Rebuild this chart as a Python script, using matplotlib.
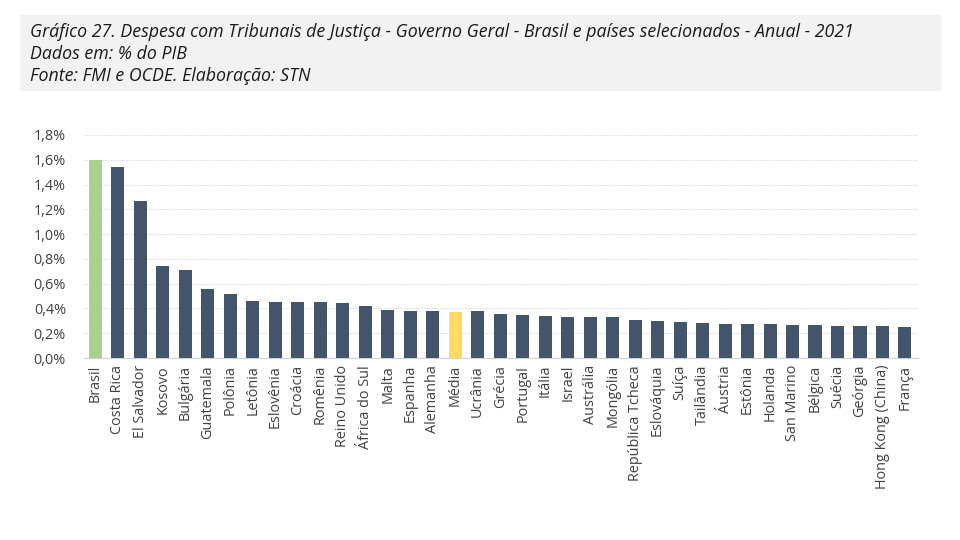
import matplotlib
matplotlib.use("Agg")
import matplotlib.pyplot as plt
from matplotlib.patches import Rectangle
from matplotlib.ticker import FuncFormatter

# paises e despesa (% do PIB)
paises = ["Brasil", "Costa Rica", "El Salvador", "Kosovo", "Bulgária", "Guatemala",
          "Polônia", "Letônia", "Eslovênia", "Croácia", "Romênia", "Reino Unido",
          "África do Sul", "Malta", "Espanha", "Alemanha", "Média", "Ucrânia",
          "Grécia", "Portugal", "Itália", "Israel", "Austrália", "Mongólia",
          "República Tcheca", "Eslováquia", "Suíça", "Tailândia", "Áustria",
          "Estônia", "Holanda", "San Marino", "Bélgica", "Suécia", "Geórgia",
          "Hong Kong (China)", "França"]
valores = [1.60, 1.54, 1.27, 0.745, 0.71, 0.56, 0.52, 0.46, 0.455, 0.455, 0.45,
           0.44, 0.42, 0.387, 0.38, 0.38, 0.375, 0.377, 0.357, 0.347, 0.336,
           0.33, 0.33, 0.33, 0.307, 0.30, 0.288, 0.282, 0.277, 0.277, 0.272,
           0.269, 0.266, 0.258, 0.258, 0.258, 0.253]

cinza = "#44546A"
cores = []
for p in paises:
    if p == "Brasil":
        cores.append("#A9D18E")
    elif p == "Média":
        cores.append("#FFD966")
    else:
        cores.append(cinza)

fig = plt.figure(figsize=(9.6, 5.4), dpi=100)

# caixa do titulo
fig.patches.append(Rectangle((20 / 960, 1 - 90 / 540), 920 / 960, 75 / 540,
                             transform=fig.transFigure, color="#F2F2F2", zorder=0))
titulo = ["Gráfico 27. Despesa com Tribunais de Justiça - Governo Geral - Brasil e países selecionados - Anual - 2021",
          "Dados em: % do PIB",
          "Fonte: FMI e OCDE. Elaboração: STN"]
for k, t in enumerate(titulo):
    fig.text(30 / 960, 1 - (32 + 22 * k) / 540, t, fontsize=12.8, style="italic",
             family="Open Sans", color="#1a1a1a", va="center")

ax = fig.add_axes([84 / 960, 1 - 358 / 540, 834 / 960, 223 / 540])
ax.bar(range(len(paises)), valores, width=0.58, color=cores, zorder=3)
ax.set_ylim(0, 1.8)
ax.set_xlim(-0.51, len(paises) - 1 + 0.58)
ax.set_yticks([i * 0.2 for i in range(10)])
ax.yaxis.set_major_formatter(FuncFormatter(lambda v, _: f"{v:.1f}%".replace(".", ",")))
ax.set_xticks(range(len(paises)))
ax.set_xticklabels(paises, rotation=90)
ax.tick_params(axis="both", length=0, labelsize=10.4, colors="#404040")
ax.tick_params(axis="y", pad=13)
ax.tick_params(axis="x", pad=5)
for lbl in ax.get_xticklabels() + ax.get_yticklabels():
    lbl.set_family("Open Sans")
ax.grid(axis="y", color="#D9D9D9", linewidth=0.8, linestyle=(0, (1, 1)), zorder=0)
for s in ["top", "right", "left"]:
    ax.spines[s].set_visible(False)
ax.spines["bottom"].set_color("#D0D0D0")

plt.savefig("out.png", dpi=100)
